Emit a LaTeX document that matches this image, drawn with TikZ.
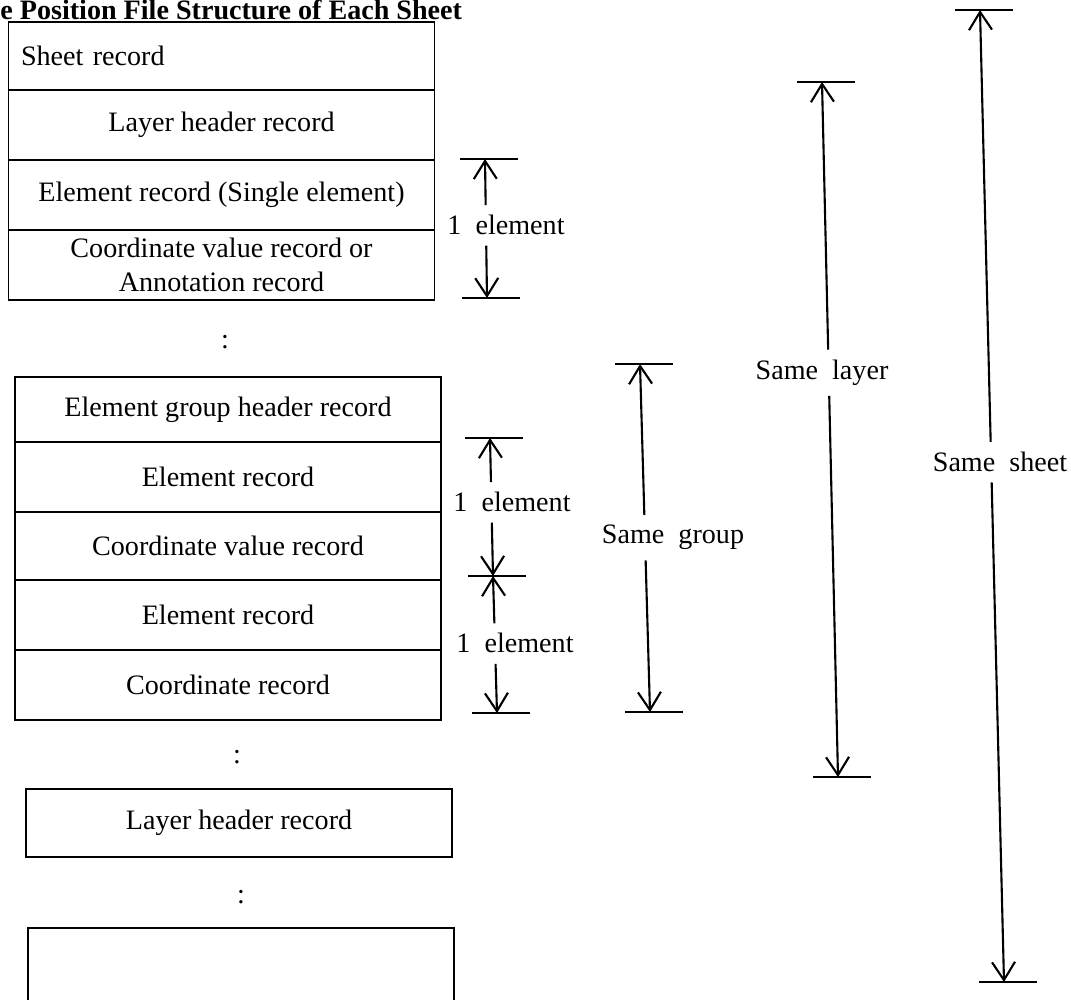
\documentclass[tikz,border=0pt]{standalone}
\usepackage{fontspec}
\setmainfont{Liberation Serif}
\usetikzlibrary{positioning,arrows.meta,calc}

\begin{document}
\begin{tikzpicture}[
  x=0.02cm, y=-0.02cm,
  font=\fontsize{16}{19}\selectfont,
  rec/.style={draw, line width=0.9pt, minimum width=8.52cm, minimum height=1.4cm,
              align=center, inner sep=0pt, outer sep=0pt},
  lbl/.style={inner xsep=2pt, inner ysep=0.2cm},
  dim/.style={-{Straight Barb[length=3.6mm, width=4.6mm]}, line width=1.2pt},
  tk/.style={line width=0.9pt}
]
\useasboundingbox (0,0) rectangle (1071,1000);

\node[anchor=base west, inner sep=0pt, font=\bfseries\fontsize{16}{19}\selectfont]
  (title) at (0,19.5) {e Position File Structure of Each Sheet};

% first block
\node[rec, anchor=north, minimum height=1.36cm, text width=8.02cm, align=left,
      inner xsep=0.25cm] (sheet) at (221.5,22) {Sheet record};
\node[rec, below=0pt of sheet] (lay1) {Layer header record};
\node[rec, below=0pt of lay1] (el1) {Element record (Single element)};
\node[rec, below=0pt of el1] (co1) {Coordinate value record or\\Annotation record};

\node (dots1) at (225,342) {:};

% element group block
\node[rec, anchor=north, minimum height=1.3cm] (grphd) at (228,377) {Element group header record};
\node[rec, below=0pt of grphd] (el2a) {Element record};
\node[rec, below=0pt of el2a, minimum height=1.36cm] (cv2) {Coordinate value record};
\node[rec, below=0pt of cv2] (el2b) {Element record};
\node[rec, below=0pt of el2b] (co2) {Coordinate record};

\node (dots2) at (237,757) {:};
\node[rec, anchor=north, minimum height=1.36cm] (lay2) at (239,789) {Layer header record};
\node (dots3) at (241,897) {:};
\node[rec, anchor=north, minimum height=1.6cm] (last) at (241,928) {};

% dimension marks
\coordinate (e1t) at (485,159);
\coordinate (e1b) at (487,298);
\coordinate (e2t) at (490,438);
\coordinate (e2m) at (493,576);
\coordinate (e2b) at (497,713);
\coordinate (gt) at (640,364);
\coordinate (gb) at (650,712);
\coordinate (lt) at (822,82);
\coordinate (lb) at (838,777);
\coordinate (st) at (980,10);
\coordinate (sb) at (1004,982);

\node[lbl] (e1) at (506,225) {1~ element};
\node[lbl] (e2) at (512,502) {1~ element};
\node[lbl] (e3) at (515,643) {1~ element};
\node[lbl] (grp) at (673,537) {Same~ group};
\node[lbl] (lay) at (822,373) {Same~ layer};
\node[lbl] (sht) at (1000,462) {Same~ sheet};

\foreach \p in {e1t,e1b,e2t,e2m,e2b,gt,gb,lt,lb,st,sb}
  \draw[tk] (\p) ++(-25,0) -- ++(58,0);
\foreach \l/\a/\b in {e1/e1t/e1b, e2/e2t/e2m, e3/e2m/e2b, grp/gt/gb, lay/lt/lb, sht/st/sb} {
  \draw[dim] ($(\a)!(\l.north)!(\b)$) -- (\a);
  \draw[dim] ($(\a)!(\l.south)!(\b)$) -- (\b);
}
\end{tikzpicture}
\end{document}
